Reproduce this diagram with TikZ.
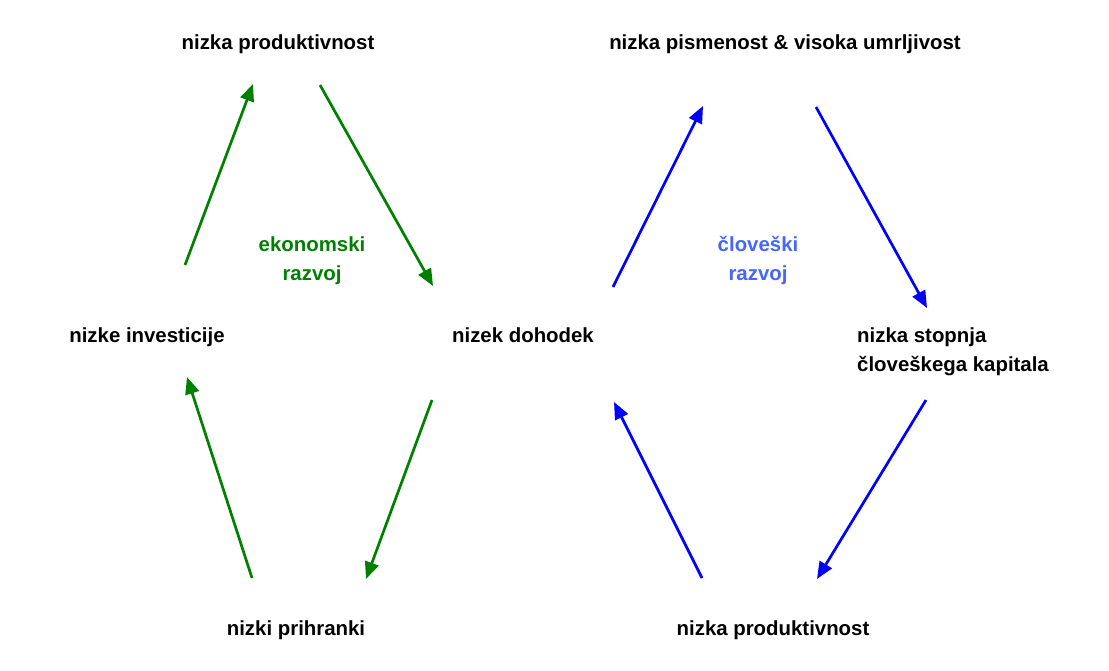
\documentclass[tikz,border=0pt]{standalone}
\usepackage{fontspec}
\setmainfont{Liberation Sans}
\usetikzlibrary{calc, arrows.meta}

\definecolor{zelena}{HTML}{008000}
\definecolor{modra}{HTML}{0000FF}
\definecolor{svetlomodra}{HTML}{4466FF}

\tikzset{
	besedilo/.style={inner sep=0pt, anchor=base, font=\fontsize{20.4}{29}\selectfont\bfseries},
	puscica/.style={line width=2.7pt, -{Triangle[length=17pt,width=14pt]}},
}

\begin{document}
\begin{tikzpicture}[x=1pt,y=-1pt]
	
	\useasboundingbox (0,0) rectangle (1109,671);
	
	% levi krog
	\node[besedilo] (produktL) at (278,50) {nizka produktivnost};
	\node[besedilo] (investicije) at (147,342) {nizke investicije};
	\node[besedilo] (dohodek) at (523,342) {nizek dohodek};
	\node[besedilo] (prihranki) at (296,635) {nizki prihranki};
	\node[besedilo, align=center, color=zelena] (ekonomski) at (312,281) {ekonomski\\razvoj};
	
	% desni krog
	\node[besedilo] (pismenost) at (785,50) {nizka pismenost \& visoka umrljivost};
	\node[besedilo, anchor=base west, align=left] (kapital) at (857,371) {nizka stopnja\\človeškega kapitala};
	\node[besedilo] (produktD) at (773,635) {nizka produktivnost};
	\node[besedilo, align=center, color=svetlomodra] (cloveski) at (758,281) {človeški\\razvoj};
	
	\coordinate (aL1) at (185,265);
	\coordinate (aL2) at (253,84);
	\coordinate (aL3) at (320,85);
	\coordinate (aL4) at (433,286);
	\coordinate (aL5) at (432,400);
	\coordinate (aL6) at (366,579);
	\coordinate (aL7) at (252,578);
	\coordinate (aL8) at (187,377);
	
	\coordinate (aD1) at (613,287);
	\coordinate (aD2) at (703,106);
	\coordinate (aD3) at (816,107);
	\coordinate (aD4) at (927,308);
	\coordinate (aD5) at (926,400);
	\coordinate (aD6) at (817,579);
	\coordinate (aD7) at (702,578);
	\coordinate (aD8) at (614,402);
	
	\draw[puscica, color=zelena] (aL1)--(aL2);
	\draw[puscica, color=zelena] (aL3)--(aL4);
	\draw[puscica, color=zelena] (aL5)--(aL6);
	\draw[puscica, color=zelena] (aL7)--(aL8);
	
	\draw[puscica, color=modra] (aD1)--(aD2);
	\draw[puscica, color=modra] (aD3)--(aD4);
	\draw[puscica, color=modra] (aD5)--(aD6);
	\draw[puscica, color=modra] (aD7)--(aD8);
	
\end{tikzpicture}
\end{document}
